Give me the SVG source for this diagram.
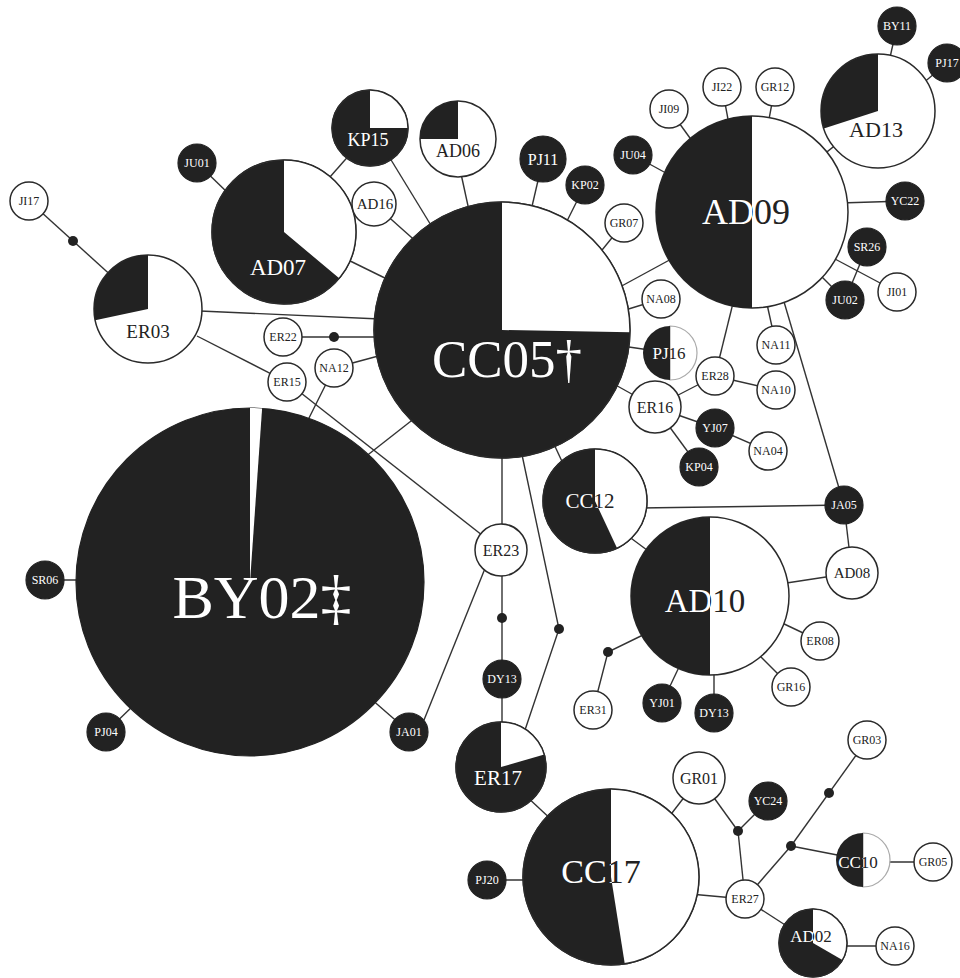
<svg xmlns="http://www.w3.org/2000/svg" width="960" height="978" viewBox="0 0 960 978">
<style>
.e{stroke:#333;stroke-width:1.4;fill:none}
.d{fill:#222}
.b{fill:#222;stroke:#222;stroke-width:1.2}
.w{fill:#fff;stroke:#2a2a2a;stroke-width:1.5}
.o{fill:none;stroke:#2a2a2a;stroke-width:1.5}
.wf{fill:#fff}
.t{font-family:"Liberation Serif","DejaVu Serif",serif;text-anchor:middle}
.s{font-size:12px}
.m{font-size:16px}
.tw{fill:#fff}
.tk{fill:#222}
</style>
<defs>
<clipPath id="cAD09"><rect x="752" y="100" width="120" height="220"/></clipPath>
<clipPath id="cAD10"><rect x="710" y="510" width="100" height="180"/></clipPath>
<clipPath id="cPJ16"><rect x="670" y="320" width="40" height="70"/></clipPath>
<clipPath id="cCC10"><rect x="863" y="830" width="40" height="70"/></clipPath>
<clipPath id="cCC12"><path d="M595,501 L595,449 A52,52 0 0 1 617,548.1 Z"/></clipPath>
<clipPath id="cCC17"><path d="M611,877 L611,789 A88,88 0 0 1 624.8,963.9 Z"/></clipPath>
<clipPath id="cAD02"><path d="M813,943 L813,909 A34,34 0 0 1 842.4,960 Z"/></clipPath>
</defs>
<rect width="960" height="978" fill="#fff"/>
<g id="connectors">
<line class="e" x1="29" y1="201" x2="148" y2="309"/>
<line class="e" x1="200" y1="311" x2="380" y2="319"/>
<line class="e" x1="197" y1="336" x2="287" y2="382"/>
<line class="e" x1="283" y1="337" x2="380" y2="337"/>
<line class="e" x1="334" y1="368" x2="382" y2="355"/>
<line class="e" x1="334" y1="368" x2="306" y2="424"/>
<line class="e" x1="287" y1="382" x2="501" y2="550"/>
<line class="e" x1="360" y1="461" x2="420" y2="414"/>
<line class="e" x1="502" y1="440" x2="502" y2="730"/>
<line class="e" x1="486" y1="566" x2="424" y2="720"/>
<line class="e" x1="370" y1="698" x2="409" y2="732"/>
<line class="e" x1="45" y1="580" x2="80" y2="580"/>
<line class="e" x1="106" y1="732" x2="135" y2="704"/>
<polyline class="e" points="521,450 559,629 525,730"/>
<line class="e" x1="552" y1="440" x2="566" y2="470"/>
<line class="e" x1="620" y1="530" x2="655" y2="556"/>
<line class="e" x1="640" y1="508" x2="844" y2="505"/>
<line class="e" x1="782" y1="295" x2="844" y2="505"/>
<line class="e" x1="844" y1="505" x2="852" y2="573"/>
<line class="e" x1="780" y1="584" x2="852" y2="573"/>
<line class="e" x1="780" y1="622" x2="820" y2="641"/>
<line class="e" x1="758" y1="654" x2="791" y2="687"/>
<line class="e" x1="714" y1="665" x2="714" y2="713"/>
<line class="e" x1="680" y1="665" x2="662" y2="703"/>
<polyline class="e" points="645,634 608,652 593,710"/>
<line class="e" x1="525" y1="795" x2="555" y2="823"/>
<line class="e" x1="487" y1="880" x2="530" y2="880"/>
<line class="e" x1="665" y1="822" x2="699" y2="778"/>
<line class="e" x1="712" y1="795" x2="738" y2="831"/>
<line class="e" x1="738" y1="831" x2="768" y2="801"/>
<line class="e" x1="738" y1="831" x2="745" y2="899"/>
<line class="e" x1="690" y1="894" x2="745" y2="899"/>
<line class="e" x1="745" y1="899" x2="791" y2="846"/>
<line class="e" x1="791" y1="846" x2="867" y2="740"/>
<line class="e" x1="791" y1="846" x2="863" y2="860"/>
<line class="e" x1="863" y1="862" x2="933" y2="862"/>
<line class="e" x1="745" y1="899" x2="813" y2="943"/>
<line class="e" x1="813" y1="946" x2="895" y2="946"/>
<line class="e" x1="340" y1="256" x2="395" y2="283"/>
<line class="e" x1="197" y1="163" x2="230" y2="195"/>
<line class="e" x1="322" y1="186" x2="352" y2="152"/>
<line class="e" x1="385" y1="150" x2="440" y2="240"/>
<line class="e" x1="374" y1="204" x2="420" y2="245"/>
<line class="e" x1="458" y1="160" x2="470" y2="215"/>
<line class="e" x1="543" y1="159" x2="530" y2="215"/>
<line class="e" x1="585" y1="185" x2="565" y2="225"/>
<line class="e" x1="624" y1="223" x2="598" y2="255"/>
<line class="e" x1="618" y1="288" x2="675" y2="257"/>
<line class="e" x1="661" y1="299" x2="622" y2="311"/>
<line class="e" x1="670" y1="353" x2="622" y2="346"/>
<line class="e" x1="655" y1="407" x2="612" y2="383"/>
<line class="e" x1="655" y1="407" x2="715" y2="376"/>
<line class="e" x1="715" y1="376" x2="735" y2="295"/>
<line class="e" x1="715" y1="376" x2="776" y2="390"/>
<line class="e" x1="776" y1="345" x2="765" y2="295"/>
<line class="e" x1="655" y1="407" x2="715" y2="428"/>
<line class="e" x1="715" y1="428" x2="768" y2="451"/>
<line class="e" x1="655" y1="407" x2="699" y2="467"/>
<line class="e" x1="669" y1="109" x2="695" y2="145"/>
<line class="e" x1="722" y1="87" x2="730" y2="130"/>
<line class="e" x1="775" y1="87" x2="767" y2="130"/>
<line class="e" x1="633" y1="155" x2="675" y2="178"/>
<line class="e" x1="752" y1="212" x2="878" y2="111"/>
<line class="e" x1="895" y1="35" x2="889" y2="62"/>
<line class="e" x1="922" y1="84" x2="947" y2="63"/>
<line class="e" x1="840" y1="203" x2="905" y2="201"/>
<line class="e" x1="835" y1="259" x2="897" y2="292"/>
<line class="e" x1="818" y1="273" x2="845" y2="300"/>
<line class="e" x1="867" y1="247" x2="845" y2="300"/>
<circle class="d" cx="73" cy="241" r="5"/>
<circle class="d" cx="334" cy="337" r="5"/>
<circle class="d" cx="502" cy="618" r="5"/>
<circle class="d" cx="559" cy="629" r="5"/>
<circle class="d" cx="608" cy="652" r="5"/>
<circle class="d" cx="738" cy="831" r="5"/>
<circle class="d" cx="791" cy="846" r="5"/>
<circle class="d" cx="829" cy="793" r="5"/>
</g>
<g id="BY02">
<circle class="b" cx="250" cy="582" r="174"/>
<path class="wf" d="M250,582 L250,408 A174,174 0 0 1 262.1,408.4 Z"/>
<text class="t tw" x="262" y="618" font-size="62">BY02‡</text>
</g>
<g id="CC05">
<circle class="b" cx="502" cy="330" r="128"/>
<path class="wf" d="M502,330 L502,202 A128,128 0 0 1 630,332.2 Z"/>
<circle class="o" cx="502" cy="330" r="128"/>
<text class="t tw" x="507" y="377" font-size="53">CC05†</text>
</g>
<g id="AD09">
<circle class="w" cx="752" cy="212" r="96"/>
<path class="d" d="M752,116 A96,96 0 0 0 752,308 Z"/>
<text class="t tw" x="746" y="224" font-size="36">AD09</text>
<text class="t tk" x="746" y="224" font-size="36" clip-path="url(#cAD09)">AD09</text>
</g>
<g id="AD13">
<circle class="w" cx="878" cy="111" r="57"/>
<path class="d" d="M878,111 L878,54 A57,57 0 0 0 823.8,128.6 Z"/>
<text class="t tk" x="876" y="137" font-size="22">AD13</text>
</g>
<g id="AD07">
<circle class="b" cx="284" cy="232" r="72"/>
<path class="wf" d="M284,232 L284,160 A72,72 0 0 1 339.2,278.3 Z"/>
<circle class="o" cx="284" cy="232" r="72"/>
<text class="t tw" x="278" y="275" font-size="23">AD07</text>
</g>
<g id="KP15">
<circle class="b" cx="370" cy="128" r="38"/>
<path class="wf" d="M370,128 L370,90 A38,38 0 0 1 408,128 Z"/>
<circle class="o" cx="370" cy="128" r="38" stroke="#555"/>
<text class="t tw" x="368" y="146" font-size="18">KP15</text>
</g>
<g id="AD06">
<circle class="w" cx="458" cy="139" r="38"/>
<path class="d" d="M458,139 L420,139 A38,38 0 0 1 458,101 Z"/>
<text class="t tk" x="458" y="157" font-size="18">AD06</text>
</g>
<g id="ER03">
<circle class="w" cx="148" cy="309" r="54"/>
<path class="d" d="M148,309 L148,255 A54,54 0 0 0 95.2,320.2 Z"/>
<text class="t tk" x="148" y="338" font-size="19">ER03</text>
</g>
<g id="CC12">
<circle class="b" cx="595" cy="501" r="52"/>
<path class="wf" d="M595,501 L595,449 A52,52 0 0 1 617,548.1 Z"/>
<circle class="o" cx="595" cy="501" r="52"/>
<text class="t tw" x="590" y="508" font-size="21">CC12</text>
<text class="t tk" x="590" y="508" font-size="21" clip-path="url(#cCC12)">CC12</text>
</g>
<g id="PJ16">
<path class="wf" d="M670,326 A27,27 0 0 1 670,380 Z" stroke="#aaa" stroke-width="1.2"/>
<path class="d" d="M670,326 A27,27 0 0 0 670,380 Z"/>
<text class="t tw" x="669" y="359" font-size="17">PJ16</text>
<text class="t tk" x="669" y="359" font-size="17" clip-path="url(#cPJ16)">PJ16</text>
</g>
<g id="AD10">
<circle class="w" cx="710" cy="596" r="79"/>
<path class="d" d="M710,517 A79,79 0 0 0 710,675 Z"/>
<text class="t tw" x="705" y="612" font-size="33">AD10</text>
<text class="t tk" x="705" y="612" font-size="33" clip-path="url(#cAD10)">AD10</text>
</g>
<g id="ER17">
<circle class="b" cx="501" cy="767" r="45"/>
<path class="wf" d="M501,767 L501,722 A45,45 0 0 1 544.3,754.6 Z"/>
<circle class="o" cx="501" cy="767" r="45"/>
<text class="t tw" x="498" y="785" font-size="21">ER17</text>
</g>
<g id="CC17">
<circle class="b" cx="611" cy="877" r="88"/>
<path class="wf" d="M611,877 L611,789 A88,88 0 0 1 624.8,963.9 Z"/>
<circle class="o" cx="611" cy="877" r="88"/>
<text class="t tw" x="601" y="883" font-size="34">CC17</text>
<text class="t tk" x="601" y="883" font-size="34" clip-path="url(#cCC17)">CC17</text>
</g>
<g id="CC10">
<path class="wf" d="M863,833 A27,27 0 0 1 863,887 Z" stroke="#aaa" stroke-width="1.2"/>
<path class="d" d="M863,833 A27,27 0 0 0 863,887 Z"/>
<text class="t tw" x="858" y="868" font-size="17">CC10</text>
<text class="t tk" x="858" y="868" font-size="17" clip-path="url(#cCC10)">CC10</text>
</g>
<g id="AD02">
<circle class="b" cx="813" cy="943" r="34"/>
<path class="wf" d="M813,943 L813,909 A34,34 0 0 1 842.4,960 Z"/>
<circle class="o" cx="813" cy="943" r="34"/>
<text class="t tw" x="811" y="942" font-size="17">AD02</text>
<text class="t tk" x="811" y="942" font-size="17" clip-path="url(#cAD02)">AD02</text>
</g>
<g id="ER16"><circle class="w" cx="655" cy="407" r="26"/><text class="t tk m" x="655" y="413">ER16</text></g>
<g id="ER23"><circle class="w" cx="501" cy="550" r="26"/><text class="t tk m" x="501" y="556">ER23</text></g>
<g id="GR01"><circle class="w" cx="699" cy="778" r="26"/><text class="t tk m" x="699" y="784">GR01</text></g>
<g id="AD08"><circle class="w" cx="852" cy="573" r="26"/><text class="t tk" x="852" y="578" font-size="15">AD08</text></g>
<g id="AD16"><circle class="w" cx="374" cy="204" r="22"/><text class="t tk" x="375" y="209" font-size="15">AD16</text></g>
<g id="PJ11"><circle class="b" cx="543" cy="159" r="23"/><text class="t tw" x="543" y="165" font-size="16">PJ11</text></g>
<g id="JI17"><circle class="w" cx="29" cy="201" r="19"/><text class="t tk s" x="29" y="205">JI17</text></g>
<g id="ER22"><circle class="w" cx="283" cy="337" r="19"/><text class="t tk s" x="283" y="341">ER22</text></g>
<g id="ER15"><circle class="w" cx="287" cy="382" r="19"/><text class="t tk s" x="287" y="386">ER15</text></g>
<g id="NA12"><circle class="w" cx="334" cy="368" r="19"/><text class="t tk s" x="334" y="372">NA12</text></g>
<g id="JI09"><circle class="w" cx="669" cy="109" r="19"/><text class="t tk s" x="669" y="113">JI09</text></g>
<g id="JI22"><circle class="w" cx="722" cy="87" r="19"/><text class="t tk s" x="722" y="91">JI22</text></g>
<g id="GR12"><circle class="w" cx="775" cy="87" r="19"/><text class="t tk s" x="775" y="91">GR12</text></g>
<g id="GR07"><circle class="w" cx="624" cy="223" r="19"/><text class="t tk s" x="624" y="227">GR07</text></g>
<g id="NA08"><circle class="w" cx="661" cy="299" r="19"/><text class="t tk s" x="661" y="303">NA08</text></g>
<g id="JI01"><circle class="w" cx="897" cy="292" r="19"/><text class="t tk s" x="897" y="296">JI01</text></g>
<g id="NA11"><circle class="w" cx="776" cy="345" r="19"/><text class="t tk s" x="776" y="349">NA11</text></g>
<g id="ER28"><circle class="w" cx="715" cy="376" r="19"/><text class="t tk s" x="715" y="380">ER28</text></g>
<g id="NA10"><circle class="w" cx="776" cy="390" r="19"/><text class="t tk s" x="776" y="394">NA10</text></g>
<g id="NA04"><circle class="w" cx="768" cy="451" r="19"/><text class="t tk s" x="768" y="455">NA04</text></g>
<g id="ER31"><circle class="w" cx="593" cy="710" r="19"/><text class="t tk s" x="593" y="714">ER31</text></g>
<g id="ER08"><circle class="w" cx="820" cy="641" r="19"/><text class="t tk s" x="820" y="645">ER08</text></g>
<g id="GR16"><circle class="w" cx="791" cy="687" r="19"/><text class="t tk s" x="791" y="691">GR16</text></g>
<g id="GR03"><circle class="w" cx="867" cy="740" r="19"/><text class="t tk s" x="867" y="744">GR03</text></g>
<g id="GR05"><circle class="w" cx="933" cy="862" r="19"/><text class="t tk s" x="933" y="866">GR05</text></g>
<g id="NA16"><circle class="w" cx="895" cy="946" r="19"/><text class="t tk s" x="895" y="950">NA16</text></g>
<g id="ER27"><circle class="w" cx="745" cy="899" r="19"/><text class="t tk s" x="745" y="903">ER27</text></g>
<g id="JU01"><circle class="b" cx="197" cy="163" r="19"/><text class="t tw s" x="197" y="167">JU01</text></g>
<g id="KP02"><circle class="b" cx="585" cy="185" r="19"/><text class="t tw s" x="585" y="189">KP02</text></g>
<g id="JU04"><circle class="b" cx="633" cy="155" r="19"/><text class="t tw s" x="633" y="159">JU04</text></g>
<g id="BY11"><circle class="b" cx="897" cy="26" r="19"/><text class="t tw s" x="897" y="30">BY11</text></g>
<g id="PJ17"><circle class="b" cx="947" cy="63" r="19"/><text class="t tw s" x="947" y="67">PJ17</text></g>
<g id="YC22"><circle class="b" cx="905" cy="201" r="19"/><text class="t tw s" x="905" y="205">YC22</text></g>
<g id="SR26"><circle class="b" cx="867" cy="247" r="19"/><text class="t tw s" x="867" y="251">SR26</text></g>
<g id="JU02"><circle class="b" cx="845" cy="300" r="19"/><text class="t tw s" x="845" y="304">JU02</text></g>
<g id="YJ07"><circle class="b" cx="715" cy="428" r="19"/><text class="t tw s" x="715" y="432">YJ07</text></g>
<g id="KP04"><circle class="b" cx="699" cy="467" r="19"/><text class="t tw s" x="699" y="471">KP04</text></g>
<g id="JA05"><circle class="b" cx="844" cy="505" r="19"/><text class="t tw s" x="844" y="509">JA05</text></g>
<g id="SR06"><circle class="b" cx="45" cy="580" r="19"/><text class="t tw s" x="45" y="584">SR06</text></g>
<g id="PJ04"><circle class="b" cx="106" cy="732" r="19"/><text class="t tw s" x="106" y="736">PJ04</text></g>
<g id="JA01"><circle class="b" cx="409" cy="732" r="19"/><text class="t tw s" x="409" y="736">JA01</text></g>
<g id="DY13a"><circle class="b" cx="502" cy="679" r="19"/><text class="t tw s" x="502" y="683">DY13</text></g>
<g id="YJ01"><circle class="b" cx="662" cy="703" r="19"/><text class="t tw s" x="662" y="707">YJ01</text></g>
<g id="DY13b"><circle class="b" cx="714" cy="713" r="19"/><text class="t tw s" x="714" y="717">DY13</text></g>
<g id="YC24"><circle class="b" cx="768" cy="801" r="19"/><text class="t tw s" x="768" y="805">YC24</text></g>
<g id="PJ20"><circle class="b" cx="487" cy="880" r="19"/><text class="t tw s" x="487" y="884">PJ20</text></g>
</svg>
